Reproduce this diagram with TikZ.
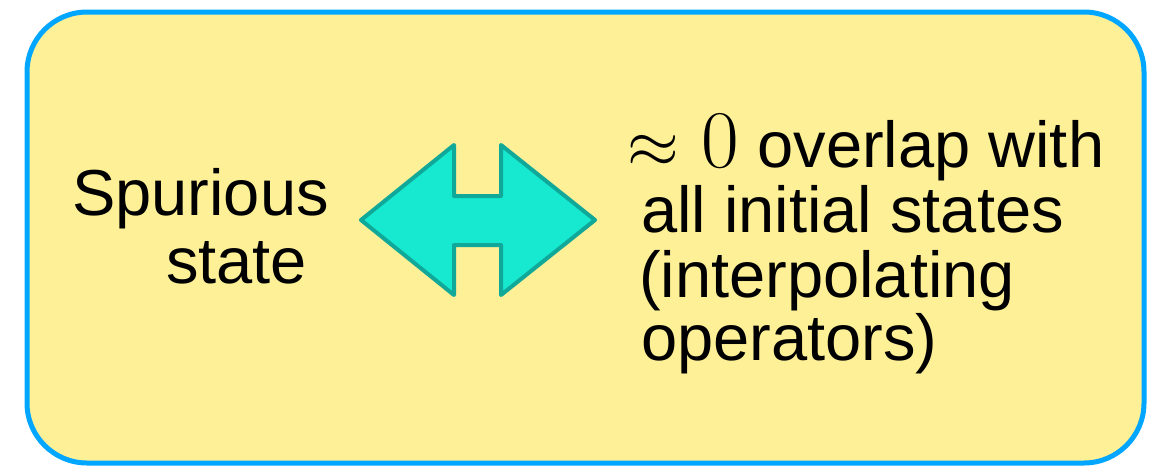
\documentclass[tikz,border=0pt]{standalone}
\usepackage{graphicx}
\usepackage{fontspec}
\setmainfont{Liberation Sans}
\definecolor{boxfill}{RGB}{254,240,150}
\definecolor{boxline}{RGB}{0,166,255}
\definecolor{arrowfill}{RGB}{23,232,208}
\definecolor{arrowline}{RGB}{16,168,152}
\tikzset{
  panel/.style={draw=boxline, fill=boxfill, line width=5pt, rounded corners=60pt},
  dblarrow/.style={draw=arrowline, fill=arrowfill, line width=4pt, line join=round},
  txt/.style={inner sep=0pt, anchor=base west, font=\fontsize{65}{66}\selectfont}
}
\begin{document}
\begin{tikzpicture}[x=1pt, y=-1pt]
  \useasboundingbox (0,0) rectangle (1161,466);
  % rounded panel
  \draw[panel] (27,12) rectangle (1144,463);
  % double-headed block arrow
  \draw[dblarrow] (361,220) -- (454,145) -- (454,196) -- (501,196) -- (501,145)
    -- (595,220) -- (501,295) -- (501,245) -- (454,245) -- (454,295) -- cycle;
  % left label
  \node[txt] (l1) at (72,215) {Spurious};
  \node[txt] (l2) at (166,283) {state};
  % right label
  \node[txt] (r1) at (627,167) {\scalebox{2.67}{$\approx$}\hspace{23pt}\scalebox{3.29}{$0$} overlap with};
  \node[txt] (r2) at (641,232) {all initial states};
  \node[txt] (r3) at (639,297) {(interpolating};
  \node[txt] (r4) at (641,360) {operators)};
\end{tikzpicture}
\end{document}
